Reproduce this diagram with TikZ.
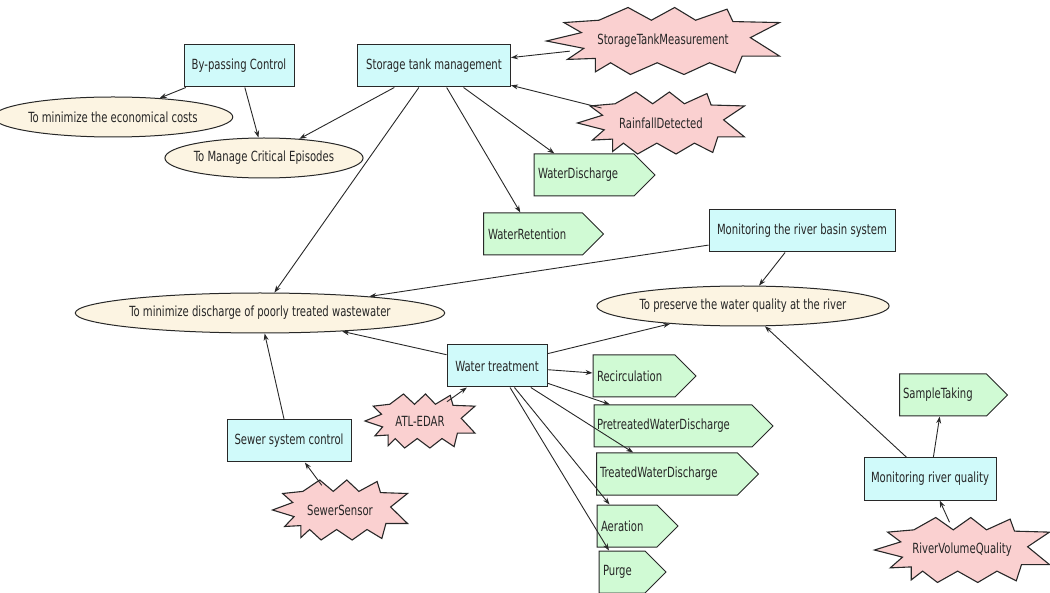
\documentclass[tikz,border=0pt]{standalone}
\usepackage{fontspec}
\usetikzlibrary{shapes.geometric,shapes.symbols,arrows.meta}
\newfontfamily\lblfont[FakeStretch=0.8]{DejaVu Sans Condensed}
\definecolor{taskfill}{RGB}{208,250,250}
\definecolor{goalfill}{RGB}{252,244,226}
\definecolor{resfill}{RGB}{208,250,212}
\definecolor{eventfill}{RGB}{250,208,208}
\definecolor{edgecol}{RGB}{40,40,40}
\tikzset{
  base/.style={draw=edgecol, line width=1pt, font=\lblfont\fontsize{14}{16}\selectfont, text=black!85, inner sep=0pt},
  tasknode/.style={base, rectangle, fill=taskfill, minimum height=42pt},
  goalnode/.style={base, ellipse, fill=goalfill, minimum height=40pt},
  resnode/.style={base, signal, signal to=east, signal pointer angle=90, fill=resfill, minimum height=42pt},
  eventnode/.style={base, ellipse, draw=none},
  eventshape/.style={line width=1.1pt, line join=miter},
  arr/.style={draw=edgecol, line width=0.9pt, -{Stealth[length=7pt,width=5pt]}}
}
% spiky event outline in a unit box, y pointing up
\newcommand{\spikyoutline}{(-0.55,0.62) -- (-0.3,1) -- (-0.1,0.62) -- (0.1,1) -- (0.28,0.62) -- (0.55,0.95) -- (0.6,0.58) -- (1,0.55) -- (0.75,0.1) -- (1,-0.45) -- (0.68,-0.45) -- (0.62,-0.95) -- (0.4,-0.65) -- (0.18,-1) -- (-0.05,-0.65) -- (-0.28,-1) -- (-0.45,-0.65) -- (-0.58,-0.92) -- (-0.58,-0.52) -- (-0.82,-0.55) -- (-0.68,-0.22) -- (-1,0) -- (-0.7,0.25) -- (-0.85,0.55) -- cycle}
% #1 name, #2 x, #3 y, #4 half width, #5 half height, #6 label
\newcommand{\eventstar}[6]{%
  \begin{scope}[shift={(#2,#3)}, xscale=#4, yscale=-#5]
    \filldraw[eventshape, draw=edgecol, fill=eventfill] \spikyoutline;
  \end{scope}
  \node[eventnode, minimum width=1.7*#4pt, minimum height=1.7*#5pt] (#1) at (#2,#3) {#6};
}
\begin{document}
\begin{tikzpicture}[x=1pt,y=-1pt]
\useasboundingbox (0,0) rectangle (1050,593);
% tasks
\node[tasknode, minimum width=110pt] (bpc)  at (239,66)  {By-passing Control};
\node[tasknode, minimum width=153pt] (stm)  at (434,66)  {Storage tank management};
\node[tasknode, minimum width=186pt] (mrb)  at (802,231) {Monitoring the river basin system};
\node[tasknode, minimum width=100pt] (wtr)  at (497,366) {Water treatment};
\node[tasknode, minimum width=124pt] (ssc)  at (289,441) {Sewer system control};
\node[tasknode, minimum width=132pt] (mrq)  at (930,479) {Monitoring river quality};
% goals
\node[goalnode, minimum width=204pt] (econ) at (113,117) {To minimize the economical costs};
\node[goalnode, minimum width=178pt] (crit) at (264,158) {To Manage Critical Episodes};
\node[goalnode, minimum width=307pt] (disch) at (260,313) {To minimize discharge of poorly treated wastewater};
\node[goalnode, minimum width=254pt] (pres) at (743,306) {To preserve the water quality at the river};
% resources
\node[resnode, minimum width=121pt, text width=92pt] (wdis) at (584,175) {WaterDischarge};
\node[resnode, minimum width=120pt, text width=90pt] (wret) at (533,234) {WaterRetention};
\node[resnode, minimum width=103pt, text width=74pt] (recirc) at (634,376) {Recirculation};
\node[resnode, minimum width=179pt, text width=152pt] (pwd) at (673,426) {PretreatedWaterDischarge};
\node[resnode, minimum width=162pt, text width=134pt] (twd) at (667,474) {TreatedWaterDischarge};
\node[resnode, minimum width=81pt, text width=52pt] (aer) at (627,526) {Aeration};
\node[resnode, minimum width=67pt, text width=38pt] (purge) at (622,572) {Purge};
\node[resnode, minimum width=108pt, text width=80pt] (samp) at (943,395) {SampleTaking};
% events
\eventstar{meas}{663}{41}{116.5}{33.5}{StorageTankMeasurement}
\eventstar{rain}{661}{123}{83.5}{31}{RainfallDetected}
\eventstar{atl}{420}{421}{55}{27}{ATL-EDAR}
\eventstar{sens}{340}{510}{67.5}{30}{SewerSensor}
\eventstar{rvq}{962}{550}{87.5}{32.5}{RiverVolumeQuality}
% connectors
\draw[arr] (bpc) -- (econ);
\draw[arr] (bpc) -- (crit);
\draw[arr] (stm) -- (crit);
\draw[arr] (stm) -- (disch);
\draw[arr] (stm) -- (wret);
\draw[arr] (stm) -- (wdis);
\draw[arr] (meas) -- (stm);
\draw[arr] (rain) -- (stm);
\draw[arr] (mrb) -- (disch);
\draw[arr] (mrb) -- (pres);
\draw[arr] (wtr) -- (disch);
\draw[arr] (wtr) -- (pres);
\draw[arr] (wtr) -- (recirc);
\draw[arr] (wtr) -- (pwd);
\draw[arr] (wtr) -- (twd);
\draw[arr] (wtr) -- (aer);
\draw[arr] (wtr) -- (purge);
\draw[arr] (atl) -- (wtr);
\draw[arr] (ssc) -- (disch);
\draw[arr] (sens) -- (ssc);
\draw[arr] (mrq) -- (samp);
\draw[arr] (mrq) -- (pres);
\draw[arr] (rvq) -- (mrq);
\end{tikzpicture}
\end{document}
